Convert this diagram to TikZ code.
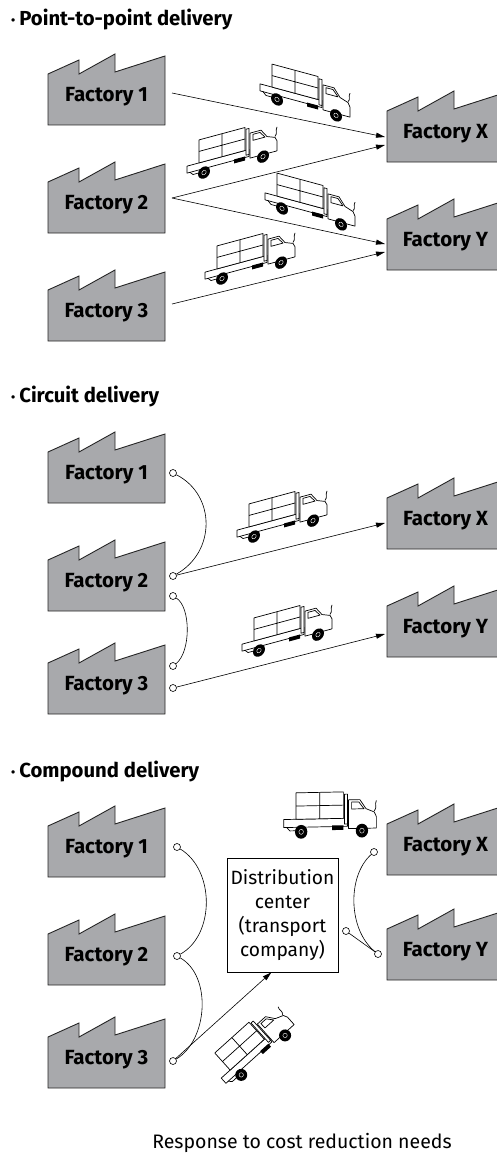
\documentclass[tikz,border=0pt]{standalone}
\usepackage{fontspec}
\setmainfont{Fira Sans}
\usetikzlibrary{arrows.meta}

\definecolor{factorygray}{RGB}{168,169,172}

\newcommand{\headdot}{{\fontsize{12}{12}\selectfont\raisebox{1pt}{\textbullet}}\hspace{4pt}}

\tikzset{
  flabel/.style={font=\bfseries\fontsize{20.5}{22}\selectfont, inner sep=0pt},
  headline/.style={font=\bfseries\fontsize{20.3}{22}\selectfont, anchor=west, inner sep=0pt},
  port/.style={circle, draw, fill=white, inner sep=0pt, minimum size=7pt, line width=0.6pt},
  flow/.style={-{Triangle[length=9pt,width=5pt]}, line width=0.6pt},
  link/.style={line width=0.6pt},
  dcbox/.style={draw, line width=0.7pt, fill=white, align=center, minimum width=111pt,
    minimum height=114pt, inner sep=0pt, font=\fontsize{19.2}{24}\selectfont},
  % factory building, placed at its bottom left corner
  pics/factory/.style={code={
    \begin{scope}[x=1pt,y=1pt]
      \draw[fill=factorygray, draw=black!85, line width=0.9pt, line join=miter]
        (0,0) -- (0,51) -- (31,65) -- (31,51) -- (67,71) -- (67,53) -- (117,69) -- (117,0) -- cycle;
      \node[flabel] (-lbl) at (58.5,28) {#1};
    \end{scope}
  }},
  % flatbed truck with load, placed at its middle
  pics/truck/.style={code={
    \begin{scope}[x=1pt,y=1pt,shift={(-45,-21)},line width=0.7pt,line join=round]
      \draw[fill=white] (0,10) rectangle (62,17);
      \draw (3,10) -- (6,7) -- (11,7);
      \fill (47,7) rectangle (58,11);
      \draw[fill=white] (12,17) rectangle (58,40);
      \draw (35,17) -- (35,40) (12,28.5) -- (58,28.5);
      \draw[fill=white] (59,12) rectangle (62,38);
      \draw[fill=white] (63,8) -- (63,33) -- (74,33) -- (80,25) -- (88,22) -- (90,18) -- (90,8) -- cycle;
      \draw (66,31) -- (73,31) -- (78,25) -- (66,25) -- cycle;
      \draw (88,23) .. controls (91,26) and (88,28) .. (90,32);
      \foreach \wx in {17,76} {
        \fill (\wx,6) circle (6);
        \draw[white, line width=0.4pt] (\wx,6) circle (2.2);
      }
    \end{scope}
  }}
}

\begin{document}
\begin{tikzpicture}[x=1pt,y=-1pt]
  \useasboundingbox (0,0) rectangle (496,1153);

  % ---- point-to-point ----
  \node[headline] (ha) at (11,20) {\headdot Point-to-point delivery};

  \pic (pa1) at (48,125) {factory={Factory 1}};
  \pic (pa2) at (48,233) {factory={Factory 2}};
  \pic (pa3) at (48,341) {factory={Factory 3}};
  \pic (pax) at (387,162) {factory={Factory X}};
  \pic (pay) at (387,270) {factory={Factory Y}};

  \coordinate (a1out) at (172,93);
  \coordinate (a2out) at (172,198);
  \coordinate (a3out) at (172,304);
  \coordinate (axin1) at (385,137);
  \coordinate (axin2) at (385,145);
  \coordinate (ayin1) at (385,244);
  \coordinate (ayin2) at (385,252);

  \draw[flow] (a1out) -- (axin1);
  \draw[flow] (a2out) -- (axin2);
  \draw[flow] (a2out) -- (ayin1);
  \draw[flow] (a3out) -- (ayin2);

  \pic[yslant=-0.27] at (305,92) {truck};
  \pic[yslant=0.27] at (232,150) {truck};
  \pic[yslant=-0.27] at (310,201) {truck};
  \pic[yslant=0.27] at (250,256) {truck};

  % ---- circuit ----
  \node[headline] (hb) at (11,397) {\headdot Circuit delivery};

  \pic (pb1) at (48,503) {factory={Factory 1}};
  \pic (pb2) at (48,611) {factory={Factory 2}};
  \pic (pb3) at (48,714) {factory={Factory 3}};
  \pic (pbx) at (387,549) {factory={Factory X}};
  \pic (pby) at (387,657) {factory={Factory Y}};

  \node[port] (b1) at (173,473) {};
  \node[port] (b2a) at (173,576) {};
  \node[port] (b2b) at (173,596) {};
  \node[port] (b3a) at (173,666) {};
  \node[port] (b3b) at (173,688) {};
  \coordinate (bxin) at (385,523);
  \coordinate (byin) at (385,634);

  \draw[link] (b1) .. controls (216,495) and (216,552) .. (b2a);
  \draw[link] (b2b) .. controls (191,607) and (191,652) .. (b3a);
  \draw[flow] (b2a) -- (bxin);
  \draw[flow] (b3b) -- (byin);

  \pic[yslant=0.27] at (282,514) {truck};
  \pic[yslant=0.27] at (287,628) {truck};

  % ---- compound ----
  \node[headline] (hc) at (11,772) {\headdot Compound delivery};

  \pic (pc1) at (48,877) {factory={Factory 1}};
  \pic (pc2) at (48,985) {factory={Factory 2}};
  \pic (pc3) at (48,1088) {factory={Factory 3}};
  \pic (pcx) at (387,875) {factory={Factory X}};
  \pic (pcy) at (387,980) {factory={Factory Y}};

  \node[dcbox] (dc) at (282.5,915) {Distribution\\center\\(transport\\company)};

  \node[port] (c1) at (177,847) {};
  \node[port] (c2) at (177,956) {};
  \node[port] (c3) at (173,1061) {};
  \node[port] (cx) at (374,852) {};
  \node[port] (cy) at (378,954) {};
  \node[port] (cd) at (346,931) {};

  \draw[link] (c1) .. controls (215,870) and (215,935) .. (c2);
  \draw[link] (c2) .. controls (212,976) and (208,1040) .. (c3);
  \draw[flow] (c3) -- (dc.-101);
  \draw[link] (cx) .. controls (347,876) and (348,930) .. (cy);
  \draw[link] (cd) -- (cy);

  \pic[yslant=0.02,yscale=1.15,xscale=1.03] at (330,814) {truck};
  \pic[rotate=42] at (252,1045) {truck};

  \node[font=\fontsize{19.5}{22}\selectfont] (note) at (302,1143) {Response to cost reduction needs};
\end{tikzpicture}
\end{document}
